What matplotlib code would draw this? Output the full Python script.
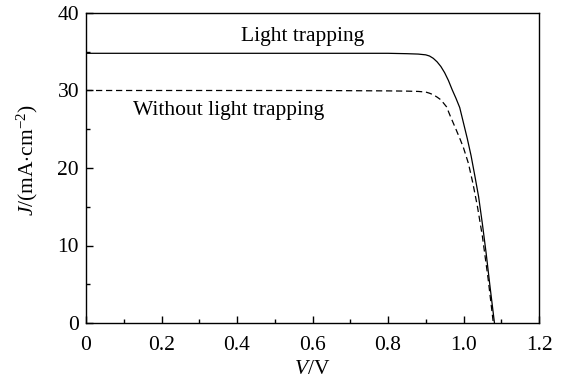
import numpy as np
import matplotlib
matplotlib.use("Agg")
import matplotlib.pyplot as plt
from matplotlib.ticker import MultipleLocator

# J-V curves
v_light = [0.0, 0.2, 0.4, 0.6, 0.8, 0.85, 0.88, 0.90, 0.91, 0.92, 0.93, 0.94, 0.95, 0.96,
           0.97, 0.98, 0.99, 1.00, 1.01, 1.02, 1.03, 1.04, 1.05, 1.06, 1.07, 1.082]
j_light = [34.8, 34.8, 34.8, 34.8, 34.8, 34.75, 34.7, 34.6, 34.45, 34.15, 33.7, 33.1, 32.3, 31.3,
           30.1, 29.0, 27.8, 25.8, 23.8, 21.6, 19.0, 16.3, 12.8, 9.0, 4.8, 0.0]

v_plain = [0.0, 0.2, 0.4, 0.6, 0.8, 0.85, 0.88, 0.90, 0.91, 0.92, 0.93, 0.94, 0.955, 0.965,
           0.98, 0.992, 1.00, 1.013, 1.025, 1.037, 1.05, 1.065, 1.079]
j_plain = [30.0, 30.0, 30.0, 30.0, 29.95, 29.92, 29.88, 29.8, 29.65, 29.45, 29.15, 28.8, 27.9, 26.7,
           25.0, 23.6, 22.6, 20.6, 18.0, 15.0, 11.2, 5.8, 0.0]

plt.rcParams["font.family"] = ["Liberation Serif", "DejaVu Serif"]
plt.rcParams["mathtext.fontset"] = "custom"
plt.rcParams["mathtext.rm"] = "Liberation Serif"
plt.rcParams["mathtext.it"] = "Liberation Serif:italic"

fs = 15.5

fig = plt.figure(figsize=(5.67, 3.85), dpi=100)
ax = fig.add_axes([86 / 567, 1 - 323 / 385, (539 - 86) / 567, (323 - 13) / 385])

ax.plot(v_light, j_light, color="black", lw=0.9)
ax.plot(v_plain, j_plain, color="black", lw=0.9, ls=(0, (5, 3)))

ax.text(0.573, 37.0, "Light trapping", fontsize=fs, ha="center", va="center")
ax.text(0.379, 27.4, "Without light trapping", fontsize=fs, ha="center", va="center")

ax.set_xlim(0, 1.2)
ax.set_ylim(0, 40)
ax.xaxis.set_minor_locator(MultipleLocator(0.1))
ax.yaxis.set_major_locator(MultipleLocator(10))
ax.yaxis.set_minor_locator(MultipleLocator(5))
ax.set_xticks([0, 0.2, 0.4, 0.6, 0.8, 1.0, 1.2])
ax.set_xticklabels(["0", "0.2", "0.4", "0.6", "0.8", "1.0", "1.2"])
ax.tick_params(which="both", direction="in", labelsize=fs, width=1)
ax.tick_params(which="major", length=5)
ax.tick_params(which="minor", length=3)
ax.tick_params(axis="x", pad=9)
ax.tick_params(axis="y", pad=5)
for s in ax.spines.values():
    s.set_linewidth(1)

ax.set_xlabel(r"$\it{V}$/V", fontsize=fs, labelpad=4)
ax.set_ylabel(r"$\it{J}$/(mA$\cdot$cm$^{-2}$)", fontsize=fs)
ax.yaxis.set_label_coords(-0.101, 0.526)

fig.savefig("out.png", dpi=100)
